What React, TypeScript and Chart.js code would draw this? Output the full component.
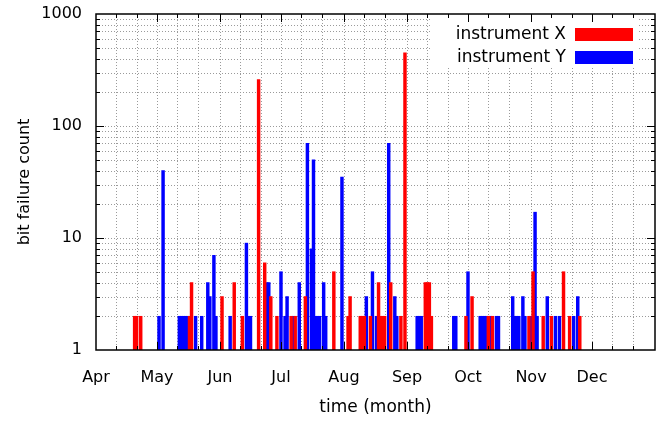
import React, { useEffect, useRef } from 'react';
import { Chart, registerables } from 'chart.js';

Chart.register(...registerables);

// x axis: days counted from 1 April
const monthLabels = ['Apr', 'May', 'Jun', 'Jul', 'Aug', 'Sep', 'Oct', 'Nov', 'Dec'];
const monthStartDays = [0, 30, 61, 91, 122, 153, 183, 214, 244];
const endDay = 275; // 1 January
const yTickValues = [1, 10, 100, 1000];

const seriesNames = ['instrument X', 'instrument Y'];
const seriesColors = ['#ff0000', '#0000ff'];

// instrument X (red)
const xDays = [19, 20, 22, 46, 47, 62, 68, 72, 80, 83, 86, 89, 96, 98, 103, 117, 124, 125, 130, 131, 132, 135, 139, 140, 141, 142, 145, 150, 152, 162, 163, 164, 165, 182, 185, 193, 195, 213, 215, 220, 224, 230, 233, 238];
const xCounts = [2, 2, 2, 2, 4, 3, 4, 2, 260, 6, 3, 2, 2, 2, 3, 5, 2, 3, 2, 2, 2, 2, 4, 2, 2, 2, 4, 2, 450, 4, 4, 4, 2, 2, 3, 2, 2, 2, 5, 2, 2, 5, 2, 2];

// instrument Y (blue)
const yDays = [31, 33, 41, 42, 43, 44, 45, 49, 52, 55, 56, 58, 59, 66, 74, 75, 76, 84, 85, 91, 93, 94, 97, 100, 104, 106, 107, 108, 109, 110, 112, 113, 121, 133, 136, 138, 144, 147, 148, 158, 159, 160, 176, 177, 183, 189, 190, 191, 192, 194, 197, 198, 205, 206, 207, 208, 210, 211, 214, 216, 217, 222, 226, 228, 235, 237];
const yCounts = [2, 40, 2, 2, 2, 2, 2, 2, 2, 4, 3, 7, 2, 2, 9, 2, 2, 4, 4, 5, 2, 3, 2, 4, 70, 8, 50, 2, 2, 2, 4, 2, 35, 3, 5, 2, 70, 3, 2, 2, 2, 2, 2, 2, 5, 2, 2, 2, 2, 2, 2, 2, 3, 2, 2, 2, 3, 2, 2, 17, 2, 3, 2, 2, 2, 3];

const FONT = '"DejaVu Sans", sans-serif';

const framePlugin = {
  id: 'frame',
  beforeDatasetsDraw(chart: any) {
    const { ctx, chartArea: a, scales } = chart;
    const x = scales.x;
    const y = scales.y;
    ctx.save();
    ctx.strokeStyle = '#9a9a9a';
    ctx.lineWidth = 1;
    ctx.setLineDash([1, 2]);
    for (const s of monthStartDays) {
      for (const k of [0, 10, 20]) {
        const d = s + k;
        if (d <= 0 || d >= endDay) continue;
        const px = Math.round(x.getPixelForValue(d)) + 0.5;
        ctx.beginPath();
        ctx.moveTo(px, a.top);
        ctx.lineTo(px, a.bottom);
        ctx.stroke();
      }
    }
    for (const dec of [1, 10, 100]) {
      for (let m = 1; m <= 9; m++) {
        const v = dec * m;
        if (v === 1) continue;
        const py = Math.round(y.getPixelForValue(v)) + 0.5;
        ctx.beginPath();
        ctx.moveTo(a.left, py);
        ctx.lineTo(a.right, py);
        ctx.stroke();
      }
    }
    ctx.setLineDash([]);
    // key background
    ctx.fillStyle = '#ffffff';
    ctx.fillRect(a.right - 225, a.top + 1, 208, 52);
    ctx.restore();
  },
  afterDatasetsDraw(chart: any) {
    const { ctx, chartArea: a, scales } = chart;
    const x = scales.x;
    const y = scales.y;
    ctx.save();
    ctx.strokeStyle = '#000';
    ctx.lineWidth = 1;
    for (const s of monthStartDays) {
      for (const k of [0, 10, 20]) {
        const d = s + k;
        if (d <= 0 || d >= endDay) continue;
        const len = k === 0 ? 8 : 4;
        const px = Math.round(x.getPixelForValue(d)) + 0.5;
        ctx.beginPath();
        ctx.moveTo(px, a.bottom);
        ctx.lineTo(px, a.bottom - len);
        ctx.moveTo(px, a.top);
        ctx.lineTo(px, a.top + len);
        ctx.stroke();
      }
    }
    for (const dec of [1, 10, 100]) {
      for (let m = 1; m <= 9; m++) {
        const v = dec * m;
        if (v === 1) continue;
        const len = m === 1 ? 8 : 4;
        const py = Math.round(y.getPixelForValue(v)) + 0.5;
        ctx.beginPath();
        ctx.moveTo(a.left, py);
        ctx.lineTo(a.left + len, py);
        ctx.moveTo(a.right, py);
        ctx.lineTo(a.right - len, py);
        ctx.stroke();
      }
    }
    ctx.lineWidth = 1.5;
    ctx.strokeRect(a.left, a.top, a.right - a.left, a.bottom - a.top);

    // key
    ctx.font = '17px ' + FONT;
    ctx.textAlign = 'right';
    ctx.textBaseline = 'middle';
    chart.data.datasets.forEach((ds: any, i: number) => {
      const cy = a.top + 21 + i * 23;
      ctx.fillStyle = '#000';
      ctx.fillText(ds.label, a.right - 89, cy);
      ctx.fillStyle = ds.backgroundColor;
      ctx.fillRect(a.right - 80, cy - 7, 58, 13);
    });
    ctx.restore();
  },
};

function toPoints(days: number[], counts: number[]) {
  return days.map((d, i) => ({ x: d, y: [1, counts[i]] }));
}

export default function App() {
  const ref = useRef<HTMLCanvasElement | null>(null);

  useEffect(() => {
    if (!ref.current) return;
    const chart = new Chart(ref.current, {
      type: 'bar',
      data: {
        datasets: [
          {
            label: seriesNames[0],
            data: toPoints(xDays, xCounts) as any,
            backgroundColor: seriesColors[0],
            borderWidth: 0,
            barThickness: 2.8,
            grouped: false,
          },
          {
            label: seriesNames[1],
            data: toPoints(yDays, yCounts) as any,
            backgroundColor: seriesColors[1],
            borderWidth: 0,
            barThickness: 2.8,
            grouped: false,
          },
        ],
      } as any,
      options: {
        animation: false,
        responsive: true,
        maintainAspectRatio: false,
        layout: { padding: { left: 0, top: 14, right: 13, bottom: 0 } },
        plugins: {
          legend: { display: false },
          tooltip: { enabled: false },
        },
        scales: {
          x: {
            type: 'linear',
            min: 0,
            max: endDay,
            offset: false,
            grid: { display: false, drawTicks: false, tickLength: 0, offset: false },
            border: { display: false },
            afterBuildTicks: (s: any) => {
              s.ticks = monthStartDays.map((v) => ({ value: v }));
            },
            afterFit: (s: any) => {
              s.height = 72;
              s.paddingLeft = 0;
              s.paddingRight = 0;
            },
            ticks: {
              autoSkip: false,
              maxRotation: 0,
              minRotation: 0,
              padding: 18,
              color: '#000',
              font: { family: FONT, size: 16 },
              callback: (v: any) => {
                const i = monthStartDays.indexOf(Number(v));
                return i >= 0 ? monthLabels[i] : '';
              },
            },
            title: {
              display: true,
              text: 'time (month)',
              color: '#000',
              font: { family: FONT, size: 17 },
              padding: { top: 0, bottom: 4 },
            },
          },
          y: {
            type: 'logarithmic',
            min: 1,
            max: 1000,
            grid: { display: false, drawTicks: false, tickLength: 0 },
            border: { display: false },
            afterBuildTicks: (s: any) => {
              s.ticks = yTickValues.map((v) => ({ value: v, major: true }));
            },
            afterFit: (s: any) => {
              s.width = 96;
              s.paddingTop = 0;
              s.paddingBottom = 0;
            },
            ticks: {
              autoSkip: false,
              padding: 14,
              color: '#000',
              font: { family: FONT, size: 16 },
              callback: (v: any) => String(v),
            },
            title: {
              display: true,
              text: 'bit failure count',
              color: '#000',
              font: { family: FONT, size: 16 },
              padding: { top: 15, bottom: 0 },
            },
          },
        },
      } as any,
      plugins: [framePlugin],
    });
    return () => chart.destroy();
  }, []);

  return (
    <div style={{ position: 'absolute', left: 0, top: 0, width: 668, height: 422, background: '#fff' }}>
      <canvas ref={ref} />
    </div>
  );
}
